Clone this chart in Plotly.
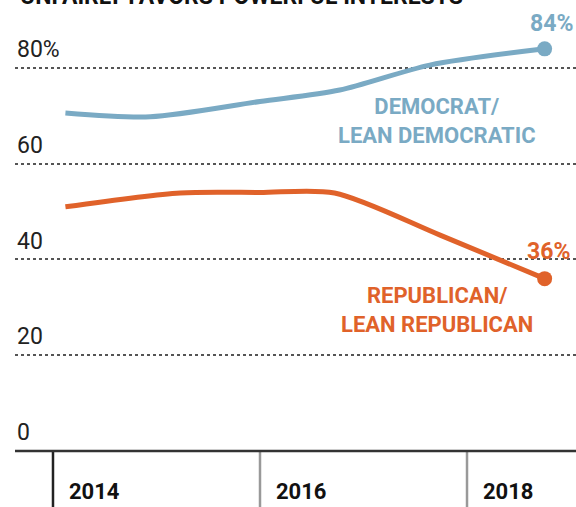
import plotly.graph_objects as go

# Data
dem_x = [2014.12, 2014.94, 2016.0, 2016.77, 2017.64, 2018.75]
dem_y = [70.6, 69.8, 73.0, 75.4, 80.6, 84.0]
rep_x = [2014.12, 2015.23, 2016.0, 2016.72, 2017.74, 2018.75]
rep_y = [51.0, 53.9, 54.0, 53.9, 45.1, 36.0]
grid_vals = [20, 40, 60, 80]
grid_labels = ["20", "40", "60", "80%"]
year_ticks = [2014, 2016, 2018]

BLUE = "#7aaac4"
ORANGE = "#e0622a"
FONT = "Roboto"

fig = go.Figure()
fig.add_trace(go.Scatter(x=dem_x, y=dem_y, mode="lines", line=dict(color=BLUE, width=5, shape="spline", smoothing=0.8), hoverinfo="skip"))
fig.add_trace(go.Scatter(x=rep_x, y=rep_y, mode="lines", line=dict(color=ORANGE, width=5, shape="spline", smoothing=0.8), hoverinfo="skip"))
fig.add_trace(go.Scatter(x=[dem_x[-1]], y=[dem_y[-1]], mode="markers", marker=dict(color=BLUE, size=15), hoverinfo="skip"))
fig.add_trace(go.Scatter(x=[rep_x[-1]], y=[rep_y[-1]], mode="markers", marker=dict(color=ORANGE, size=15), hoverinfo="skip"))

ann = []
for v, lab in zip(grid_vals + [0], grid_labels + ["0"]):
    ann.append(dict(x=0, xref="paper", y=v + 0.6, yref="y", text=lab, showarrow=False,
                    xanchor="left", yanchor="bottom", font=dict(family=FONT, size=23, color="#222")))
shapes = []
for i, yr in enumerate(year_ticks):
    shapes.append(dict(type="line", x0=yr, x1=yr, xref="x", y0=0, y1=-12, yref="y",
                       line=dict(color="#222" if i == 0 else "#999", width=2.5)))
    ann.append(dict(x=yr + 0.135, y=-8.5, xref="x", yref="y", text="<b>%d</b>" % yr, showarrow=False,
                    xanchor="left", yanchor="middle", font=dict(family=FONT, size=22, color="#111")))
shapes.append(dict(type="line", x0=0, x1=1, xref="paper", y0=0, y1=0, yref="y",
                   line=dict(color="#333", width=2.5)))

ann.append(dict(x=1, xref="paper", xshift=-1, y=dem_y[-1] + 2.0, yref="y", text="<b>84%</b>", showarrow=False,
                xanchor="right", yanchor="bottom", font=dict(family=FONT, size=23, color=BLUE)))
ann.append(dict(x=1, xref="paper", xshift=-4, y=rep_y[-1] + 2.4, yref="y", text="<b>36%</b>", showarrow=False,
                xanchor="right", yanchor="bottom", font=dict(family=FONT, size=23, color=ORANGE)))
ann.append(dict(x=2017.71, y=68.9, xref="x", yref="y", text="<b>DEMOCRAT/<br>LEAN DEMOCRATIC</b>", showarrow=False,
                xanchor="center", yanchor="middle", align="center", font=dict(family=FONT, size=22, color=BLUE)))
ann.append(dict(x=2017.71, y=29.5, xref="x", yref="y", text="<b>REPUBLICAN/<br>LEAN REPUBLICAN</b>", showarrow=False,
                xanchor="center", yanchor="middle", align="center", font=dict(family=FONT, size=22, color=ORANGE)))
ann.append(dict(x=0.005, xref="paper", y=1, yref="paper", yshift=-12, text="<b>UNFAIRLY FAVORS POWERFUL INTERESTS</b>",
                showarrow=False, xanchor="left", yanchor="bottom", font=dict(family=FONT, size=23, color="#111")))

fig.update_layout(
    width=576, height=507, margin=dict(l=15, r=0, t=0, b=0),
    paper_bgcolor="white", plot_bgcolor="white", showlegend=False,
    xaxis=dict(range=[2013.633, 2019.053], showgrid=False, zeroline=False, showticklabels=False, ticks=""),
    yaxis=dict(range=[-11.7, 94.2], tickvals=grid_vals, showticklabels=False, showgrid=True,
               gridcolor="#555", griddash="dot", gridwidth=1.5, zeroline=False, ticks=""),
    annotations=ann, shapes=shapes,
)
fig.write_html("out.html")
